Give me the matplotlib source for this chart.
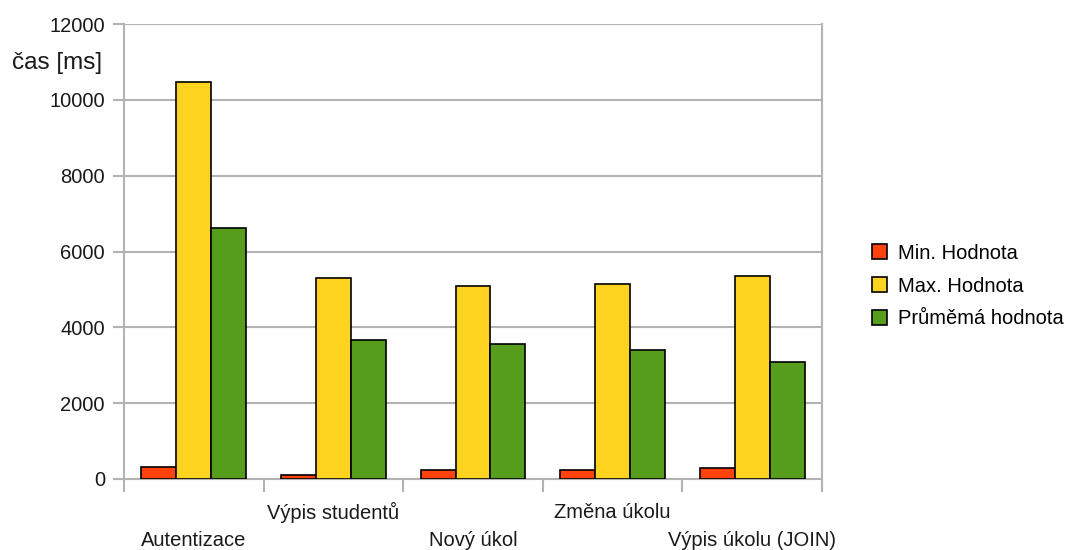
import matplotlib
matplotlib.use("Agg")
import matplotlib.pyplot as plt
import numpy as np
from matplotlib.patches import Patch

categories = ["Autentizace", "Výpis studentů", "Nový úkol", "Změna úkolu", "Výpis úkolu (JOIN)"]
min_vals = [320, 100, 250, 250, 300]
max_vals = [10480, 5300, 5090, 5145, 5360]
avg_vals = [6620, 3670, 3560, 3400, 3090]
series_names = ["Min. Hodnota", "Max. Hodnota", "Průměmá hodnota"]
colors = ["#ff420e", "#ffd320", "#579d1c"]
yticks = [0, 2000, 4000, 6000, 8000, 10000, 12000]

plt.rcParams['font.family'] = ['Liberation Sans', 'DejaVu Sans']

fig = plt.figure(figsize=(10.66, 5.5), dpi=100)
ax = fig.add_axes([124/1066, 1-479/550, 698/1066, 455/550])

x = np.arange(len(categories))
w = 0.25
for i, (vals, c) in enumerate(zip([min_vals, max_vals, avg_vals], colors)):
    ax.bar(x + (i - 1) * w, vals, width=w, color=c, edgecolor="black", linewidth=1.2, zorder=3)

fs = 14.5
txtc = "#1a1a1a"
ax.set_xlim(-0.5, len(categories) - 0.5)
ax.set_ylim(0, 12000)
ax.set_yticks(yticks)
ax.set_yticklabels([str(v) for v in yticks], fontsize=fs, color=txtc)
ax.yaxis.grid(True, color="#b3b3b3", linewidth=1.5, zorder=0)
ax.set_axisbelow(True)

ax.set_xticks(np.arange(len(categories) + 1) - 0.5)
ax.set_xticklabels([])
ax.tick_params(axis="x", length=9.4, color="#b3b3b3", width=1.5)
ax.tick_params(axis="y", length=7.9, color="#b3b3b3", width=1.5, pad=5.8)

for i, cat in enumerate(categories):
    off = 61 if i % 2 == 0 else 33
    ax.annotate(cat, xy=(i, 0), xycoords=("data", "axes fraction"),
                xytext=(0, -off), textcoords="offset pixels",
                ha="center", va="center", fontsize=fs, color=txtc)

for s in ax.spines.values():
    s.set_color("#b3b3b3")
    s.set_linewidth(1.5)
ax.spines["top"].set_visible(False)

fig.text(102/1066, 1-63/550, "čas [ms]", ha="right", va="center", fontsize=17.5, color=txtc)

handles = [Patch(facecolor=c, edgecolor="black", linewidth=1.2) for c in colors]
fig.legend(handles, series_names, loc="center left", bbox_to_anchor=(872/1066, 1-286/550),
           frameon=False, fontsize=fs, handlelength=0.75, handleheight=0.75,
           handletextpad=0.55, labelspacing=0.68, borderpad=0, borderaxespad=0)

fig.savefig("out.png", dpi=100)
